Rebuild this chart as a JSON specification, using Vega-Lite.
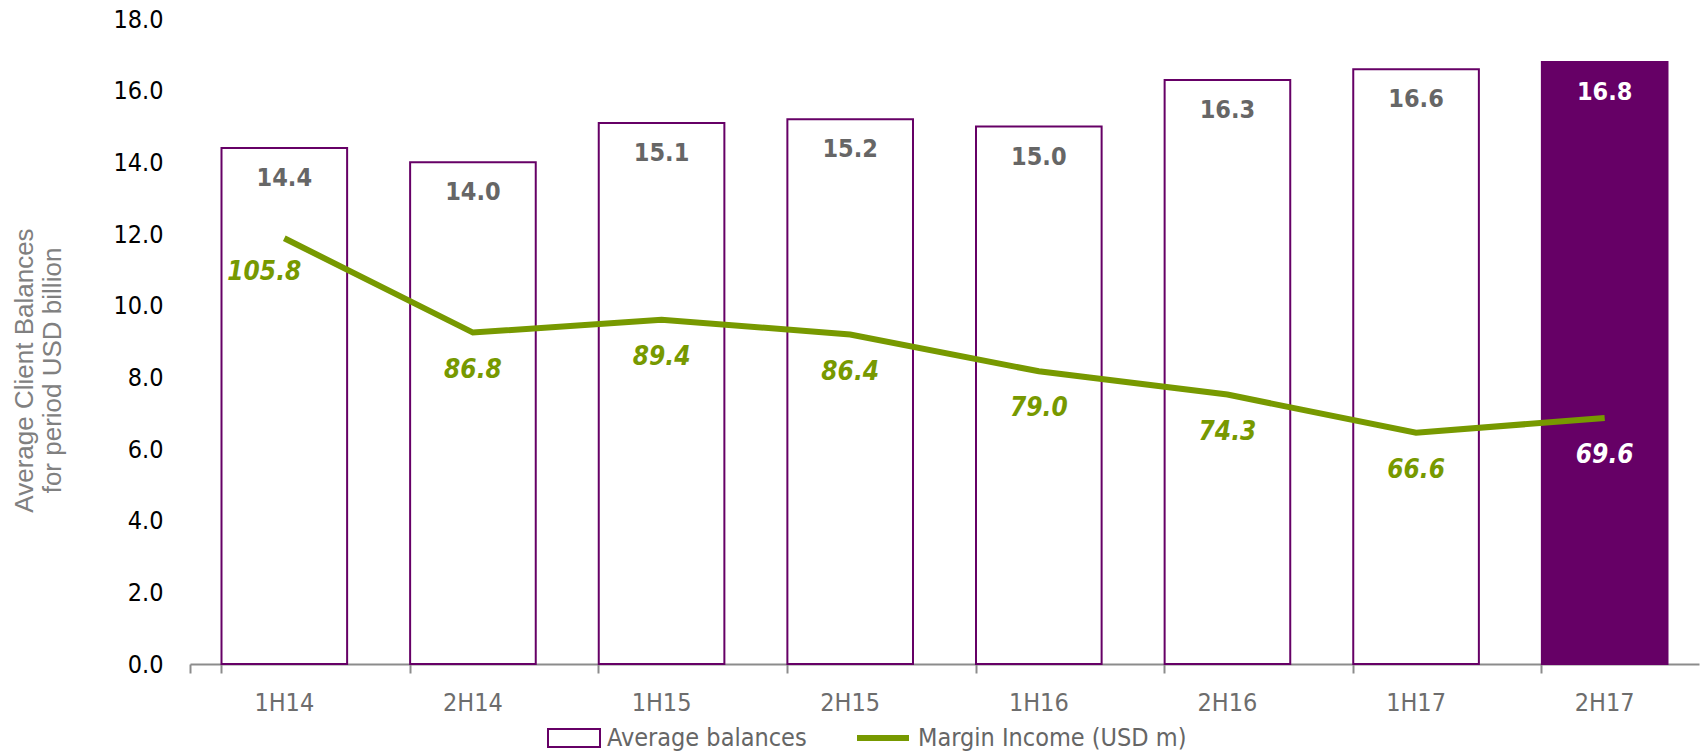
{
  "$schema": "https://vega.github.io/schema/vega-lite/v6.json",
  "width": 1509,
  "height": 645,
  "autosize": {"type": "none"},
  "padding": {"left": 190, "top": 19, "right": 6, "bottom": 87},
  "background": "white",
  "config": {
    "view": {"stroke": null},
    "font": "DejaVu Sans Condensed, DejaVu Sans",
    "legend": {
      "orient": "none",
      "direction": "horizontal",
      "title": null,
      "padding": 0,
      "symbolSize": 2704,
      "labelFont": "DejaVu Sans Condensed, DejaVu Sans",
      "labelFontSize": 25,
      "labelColor": "#666666",
      "labelOffset": 6,
      "labelLimit": 400
    }
  },
  "data": {
    "values": [
      {"period": "1H14", "balance": 14.4, "income": 105.8},
      {"period": "2H14", "balance": 14.0, "income": 86.8},
      {"period": "1H15", "balance": 15.1, "income": 89.4},
      {"period": "2H15", "balance": 15.2, "income": 86.4},
      {"period": "1H16", "balance": 15.0, "income": 79.0},
      {"period": "2H16", "balance": 16.3, "income": 74.3},
      {"period": "1H17", "balance": 16.6, "income": 66.6},
      {"period": "2H17", "balance": 16.8, "income": 69.6}
    ]
  },
  "encoding": {
    "x": {
      "field": "period",
      "type": "nominal",
      "sort": null,
      "scale": {"paddingInner": 0.334, "paddingOuter": 0.167},
      "axis": {
        "title": null,
        "labelAngle": 0,
        "bandPosition": 0,
        "tickExtra": true,
        "labelFont": "DejaVu Sans Condensed, DejaVu Sans",
        "labelFontSize": 25,
        "labelColor": "#6d6d6d",
        "labelPadding": 17,
        "tickSize": 9,
        "tickColor": "#8c8c8c",
        "tickWidth": 2,
        "domainColor": "#8c8c8c",
        "domainWidth": 2,
        "grid": false
      }
    }
  },
  "layer": [
    {
      "layer": [
        {
          "mark": {"type": "bar", "strokeWidth": 2},
          "encoding": {
            "y": {
              "field": "balance",
              "type": "quantitative",
              "scale": {"domain": [0, 18], "nice": false},
              "axis": {
                "values": [0, 2, 4, 6, 8, 10, 12, 14, 16, 18],
                "format": ".1f",
                "grid": false,
                "domain": false,
                "ticks": false,
                "tickSize": 0,
                "labelPadding": 27,
                "labelFont": "DejaVu Sans Condensed, DejaVu Sans",
                "labelFontSize": 25,
                "labelColor": "#000000",
                "title": ["Average Client Balances", "for period USD billion"],
                "titleFont": "Liberation Sans",
                "titleFontSize": 26,
                "titleFontWeight": "normal",
                "titleColor": "#808080",
                "titleLineHeight": 28,
                "titleAngle": 270,
                "titleAlign": "center",
                "titleBaseline": "top",
                "titleX": -179,
                "titleY": 351
              }
            },
            "fill": {
              "condition": {"test": "datum.period === '2H17'", "value": "#660066"},
              "value": "white"
            },
            "stroke": {
              "datum": "Average balances",
              "type": "nominal",
              "scale": {"domain": ["Average balances"], "range": ["#660066"]},
              "legend": {
                "legendX": 357,
                "legendY": 692,
                "symbolType": "M-1,-0.346H1V0.346H-1Z",
                "symbolStrokeWidth": 2,
                "symbolFillColor": "white"
              }
            }
          }
        },
        {
          "mark": {"type": "text", "dy": 30, "fontWeight": "bold", "fontSize": 25, "baseline": "middle", "font": "DejaVu Sans Condensed, DejaVu Sans"},
          "encoding": {
            "y": {"field": "balance", "type": "quantitative"},
            "text": {"field": "balance", "type": "quantitative", "format": ".1f"},
            "color": {
              "condition": {"test": "datum.period === '2H17'", "value": "white"},
              "value": "#666666"
            }
          }
        }
      ]
    },
    {
      "layer": [
        {
          "mark": {"type": "line", "strokeWidth": 6},
          "encoding": {
            "y": {
              "field": "income",
              "type": "quantitative",
              "scale": {"domain": [20, 150], "nice": false},
              "axis": null
            },
            "stroke": {
              "datum": "Margin Income (USD m)",
              "type": "nominal",
              "scale": {"domain": ["Margin Income (USD m)"], "range": ["#779900"]},
              "legend": {
                "legendX": 664,
                "legendY": 690,
                "symbolType": "M-1,0H1",
                "symbolStrokeWidth": 6
              }
            }
          }
        },
        {
          "transform": [{"filter": "datum.period !== '1H14'"}],
          "mark": {"type": "text", "dy": 37, "fontWeight": "bold", "fontStyle": "italic", "fontSize": 26, "baseline": "middle", "font": "DejaVu Sans Condensed, DejaVu Sans"},
          "encoding": {
            "y": {"field": "income", "type": "quantitative"},
            "text": {"field": "income", "type": "quantitative", "format": ".1f"},
            "color": {
              "condition": {"test": "datum.period === '2H17'", "value": "white"},
              "value": "#779900"
            }
          }
        },
        {
          "transform": [{"filter": "datum.period === '1H14'"}],
          "mark": {"type": "text", "dy": 34, "dx": -20, "fontWeight": "bold", "fontStyle": "italic", "fontSize": 26, "baseline": "middle", "font": "DejaVu Sans Condensed, DejaVu Sans"},
          "encoding": {
            "y": {"field": "income", "type": "quantitative"},
            "text": {"field": "income", "type": "quantitative", "format": ".1f"},
            "color": {"value": "#779900"}
          }
        }
      ]
    }
  ],
  "resolve": {
    "scale": {"y": "independent", "stroke": "independent"},
    "legend": {"stroke": "independent"}
  }
}
